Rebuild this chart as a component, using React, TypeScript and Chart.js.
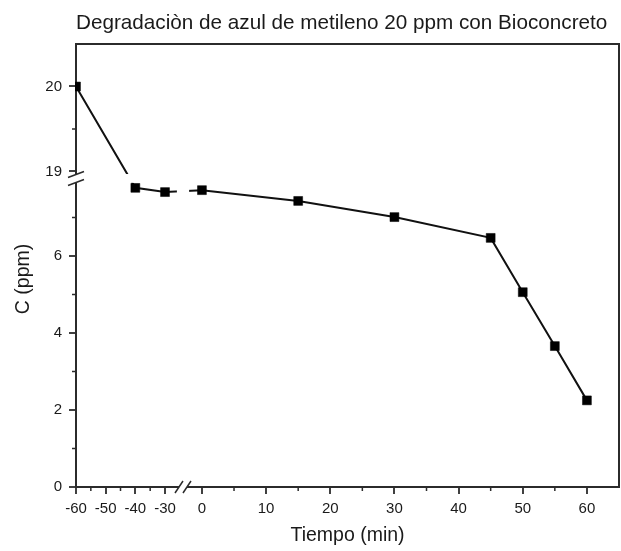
import React, { useEffect, useRef } from 'react';
import { Chart, LinearScale, registerables } from 'chart.js';

// ---------- data ----------
const TITLE = 'Degradaciòn de azul de metileno 20 ppm con Bioconcreto';
const X_LABEL = 'Tiempo (min)';
const Y_LABEL = 'C (ppm)';

const times = [-60, -40, -30, 0, 15, 30, 45, 50, 55, 60];
const concentration = [20, 7.77, 7.66, 7.71, 7.43, 7.01, 6.47, 5.06, 3.66, 2.25];

const xMajorTicks = [-60, -50, -40, -30, 0, 10, 20, 30, 40, 50, 60];
const xMinorTicks = [-55, -45, -35, 5, 15, 25, 35, 45, 55];
const yMajorTicks = [0, 2, 4, 6, 19, 20];
const yMinorTicks = [1, 3, 5, 7, 19.5];

// broken-axis configuration (value ranges of each axis piece and its share of the axis length)
const xAxisPieces = [
  { min: -60, max: -26, from: 0, to: 0.1858 },
  { min: -2, max: 65, from: 0.2083, to: 1 },
];
const yAxisPieces = [
  { min: 0, max: 7.9, from: 0, to: 0.6866 },
  { min: 18.97, max: 20.5, from: 0.7065, to: 1 },
];

// ---------- styles ----------
const FONT = "'Liberation Sans', Arial, Helvetica, sans-serif";
const AXIS = '#2b2b2b';
const TEXT = '#1a1a1a';

type Piece = { min: number; max: number; from: number; to: number };

function readPieces(raw: any): Piece[] {
  const out: Piece[] = [];
  for (let i = 0; i < raw.length; i++) {
    out.push({ min: raw[i].min, max: raw[i].max, from: raw[i].from, to: raw[i].to });
  }
  return out;
}

function valueToDecimal(p: Piece[], v: number): number {
  const lin = (s: Piece, val: number) => s.from + ((val - s.min) / (s.max - s.min)) * (s.to - s.from);
  if (v <= p[0].max) return lin(p[0], v);
  for (let i = 1; i < p.length; i++) {
    const s = p[i];
    const prev = p[i - 1];
    if (v < s.min) {
      return prev.to + ((v - prev.max) / (s.min - prev.max)) * (s.from - prev.to);
    }
    if (v <= s.max || i === p.length - 1) return lin(s, v);
  }
  return lin(p[p.length - 1], v);
}

function decimalToValue(p: Piece[], d: number): number {
  const inv = (s: Piece, dec: number) => s.min + ((dec - s.from) / (s.to - s.from)) * (s.max - s.min);
  if (d <= p[0].to) return inv(p[0], d);
  for (let i = 1; i < p.length; i++) {
    const s = p[i];
    const prev = p[i - 1];
    if (d < s.from) {
      return prev.max + ((d - prev.to) / (s.from - prev.to)) * (s.min - prev.max);
    }
    if (d <= s.to || i === p.length - 1) return inv(s, d);
  }
  return inv(p[p.length - 1], d);
}

class BrokenLinearScale extends (LinearScale as any) {
  static id = 'brokenLinear';
  static defaults = {};

  pieces(): Piece[] {
    return readPieces((this as any).options.pieces);
  }
  determineDataLimits() {
    const p = this.pieces();
    (this as any).min = p[0].min;
    (this as any).max = p[p.length - 1].max;
  }
  buildTicks() {
    const vals = (this as any).options.tickValues || [];
    const out: any[] = [];
    for (let i = 0; i < vals.length; i++) out.push({ value: vals[i] });
    return out;
  }
  getPixelForValue(value: number) {
    if (value === null || value === undefined || isNaN(value)) return NaN;
    return (this as any).getPixelForDecimal(valueToDecimal(this.pieces(), value));
  }
  getValueForPixel(pixel: number) {
    return decimalToValue(this.pieces(), (this as any).getDecimalForPixel(pixel));
  }
}

Chart.register(...registerables, BrokenLinearScale as any);

const decorPlugin = {
  id: 'brokenDecor',
  afterDatasetsDraw(chart: any) {
    const { ctx, chartArea, scales } = chart;
    const { left, right, top, bottom } = chartArea;
    const x = scales.x;
    const y = scales.y;
    const yHi = y.getPixelForValue(yAxisPieces[1].min);
    const yLo = y.getPixelForValue(yAxisPieces[0].max);
    const xL = x.getPixelForValue(xAxisPieces[0].max);
    const xR = x.getPixelForValue(xAxisPieces[1].min);
    ctx.save();
    ctx.fillStyle = '#ffffff';
    ctx.fillRect(left + 1.5, yHi, right - left - 3, yLo - yHi);
    ctx.fillRect(xL, top + 1.5, xR - xL, bottom - top - 3);
    ctx.restore();
  },
  afterDraw(chart: any) {
    const { ctx, chartArea, scales } = chart;
    const { left, right, top, bottom } = chartArea;
    const x = scales.x;
    const y = scales.y;
    ctx.save();
    // top and right frame
    ctx.strokeStyle = AXIS;
    ctx.lineWidth = 2;
    ctx.beginPath();
    ctx.moveTo(left - 1, top);
    ctx.lineTo(right, top);
    ctx.moveTo(right, top - 1);
    ctx.lineTo(right, bottom + 1);
    ctx.stroke();

    // minor ticks
    ctx.lineWidth = 1.5;
    ctx.beginPath();
    yMinorTicks.forEach((v) => {
      const py = y.getPixelForValue(v);
      ctx.moveTo(left - 4, py);
      ctx.lineTo(left, py);
    });
    xMinorTicks.forEach((v) => {
      const px = x.getPixelForValue(v);
      ctx.moveTo(px, bottom);
      ctx.lineTo(px, bottom + 4);
    });
    ctx.stroke();

    // y break
    const yc = (y.getPixelForValue(yAxisPieces[1].min) + y.getPixelForValue(yAxisPieces[0].max)) / 2;
    ctx.fillStyle = '#ffffff';
    ctx.fillRect(left - 2, yc - 4, 4, 8);
    ctx.lineWidth = 1.5;
    ctx.beginPath();
    [-4, 4].forEach((d) => {
      ctx.moveTo(left - 8, yc + d + 3);
      ctx.lineTo(left + 8, yc + d - 3);
    });
    ctx.stroke();

    // x break
    const xc = (x.getPixelForValue(xAxisPieces[0].max) + x.getPixelForValue(xAxisPieces[1].min)) / 2;
    ctx.fillRect(xc - 4, bottom - 2, 8, 4);
    ctx.beginPath();
    [-4, 4].forEach((d) => {
      ctx.moveTo(xc + d - 4, bottom + 6);
      ctx.lineTo(xc + d + 4, bottom - 6);
    });
    ctx.stroke();

    // y axis title
    ctx.translate(24, 279);
    ctx.rotate(-Math.PI / 2);
    ctx.fillStyle = TEXT;
    ctx.font = `19.5px ${FONT}`;
    ctx.textAlign = 'center';
    ctx.textBaseline = 'middle';
    ctx.fillText(Y_LABEL, 0, 0);
    ctx.restore();
  },
};

export default function App() {
  const ref = useRef<HTMLCanvasElement>(null);

  useEffect(() => {
    const canvas = ref.current;
    if (!canvas) return;
    Chart.defaults.font.family = FONT;
    const points = times.map((t, i) => ({ x: t, y: concentration[i] }));
    const chart = new Chart(canvas, {
      type: 'line',
      data: {
        datasets: [
          {
            data: points,
            borderColor: '#111111',
            borderWidth: 2,
            pointStyle: 'rect',
            pointRadius: 6.3,
            pointBorderWidth: 0.5,
            pointBackgroundColor: '#000000',
            pointBorderColor: '#000000',
            tension: 0,
            clip: { left: 1, right: 6, top: 6, bottom: 6 },
          },
        ],
      },
      options: {
        responsive: false,
        animation: false,
        events: [],
        layout: { autoPadding: false, padding: { left: 0, right: 2, top: 0, bottom: 0 } },
        plugins: {
          legend: { display: false },
          tooltip: { enabled: false },
          title: {
            display: true,
            text: TITLE,
            align: 'start',
            fullSize: false,
            color: TEXT,
            font: { size: 20.7, weight: 'normal', family: FONT },
            padding: { top: 11, bottom: 8.16 },
          },
        },
        scales: {
          x: {
            type: 'brokenLinear',
            position: 'bottom',
            pieces: xAxisPieces,
            tickValues: xMajorTicks,
            afterFit: (s: any) => {
              s.height = 64;
              s.paddingLeft = 0;
              s.paddingRight = 0;
            },
            grid: {
              display: true,
              drawOnChartArea: false,
              drawTicks: true,
              tickLength: 7,
              color: AXIS,
              lineWidth: 2,
              tickWidth: 1.8,
              tickColor: AXIS,
            },
            border: { display: true, color: AXIS, width: 2 },
            ticks: {
              autoSkip: false,
              maxRotation: 0,
              minRotation: 0,
              padding: 6,
              color: TEXT,
              font: { size: 15, family: FONT },
              callback: (v: any) => String(v),
            },
            title: {
              display: true,
              text: X_LABEL,
              color: TEXT,
              font: { size: 19.5, family: FONT },
              padding: { top: 0, bottom: 4 },
            },
          },
          y: {
            type: 'brokenLinear',
            position: 'left',
            pieces: yAxisPieces,
            tickValues: yMajorTicks,
            afterFit: (s: any) => {
              s.width = 76;
              s.paddingTop = 0;
              s.paddingBottom = 0;
            },
            grid: {
              display: true,
              drawOnChartArea: false,
              drawTicks: true,
              tickLength: 7,
              color: AXIS,
              lineWidth: 2,
              tickWidth: 1.8,
              tickColor: AXIS,
            },
            border: { display: true, color: AXIS, width: 2 },
            ticks: {
              autoSkip: false,
              padding: 7,
              color: TEXT,
              font: { size: 15, family: FONT },
              callback: (v: any) => String(v),
            },
            title: { display: false },
          },
        } as any,
      },
      plugins: [decorPlugin],
    } as any);
    return () => chart.destroy();
  }, []);

  return (
    <div style={{ position: 'fixed', left: 0, top: 0, width: 621, height: 551, background: '#ffffff' }}>
      <canvas ref={ref} width={621} height={551} style={{ display: 'block', width: 621, height: 551 }} />
    </div>
  );
}
